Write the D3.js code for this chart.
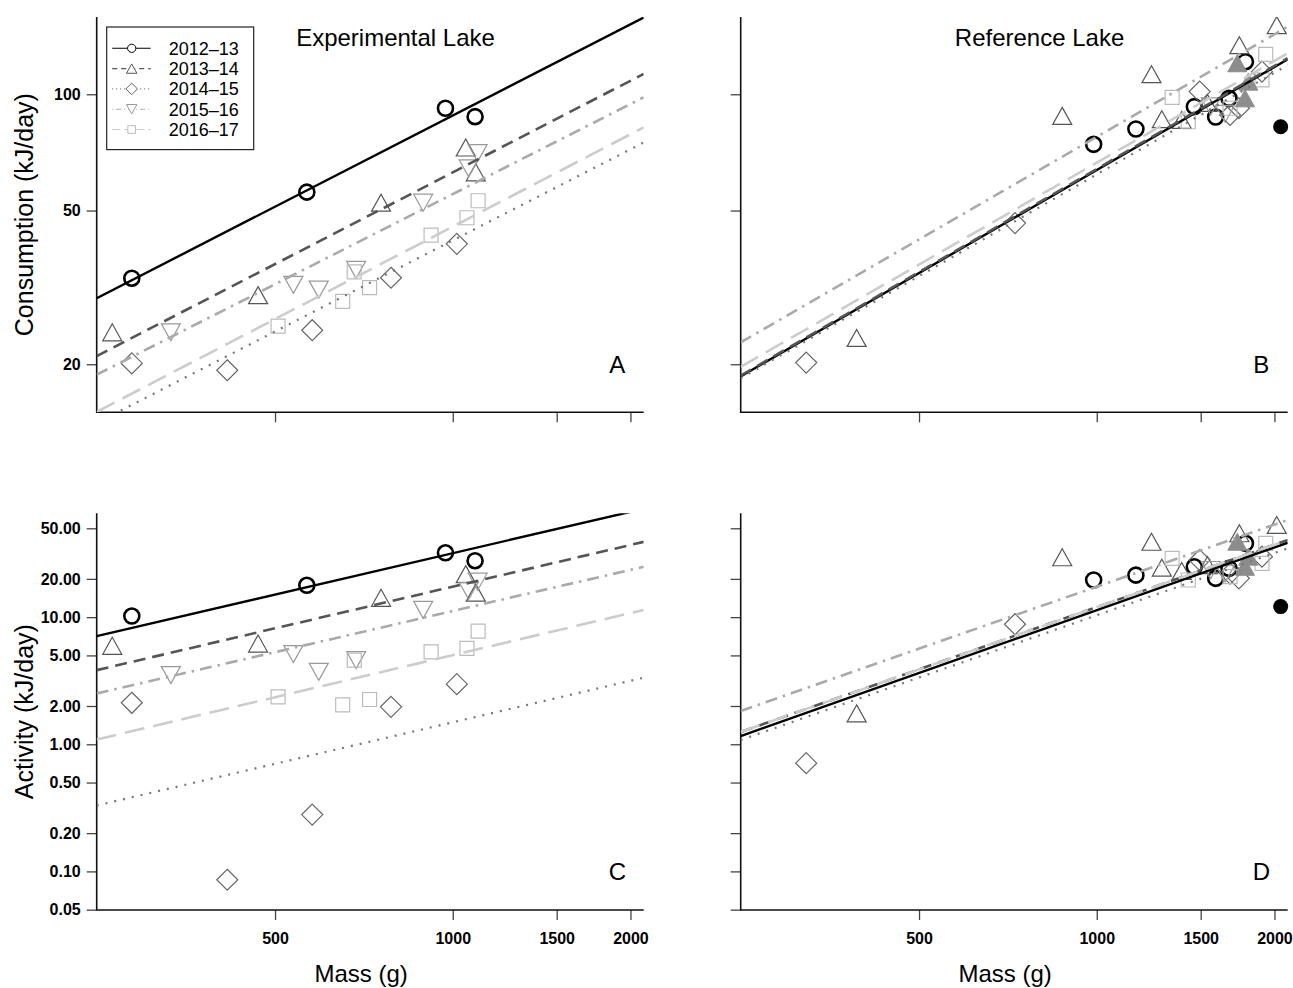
<!DOCTYPE html>
<html>
<head>
<meta charset="utf-8">
<script src="https://cdn.jsdelivr.net/npm/d3@7"></script>
<style>
  body { margin: 0; background: #fff; }
  text { font-family: "Liberation Sans", Arial, Helvetica, sans-serif; }
</style>
</head>
<body>
<script>
const W = 1293, H = 988;

// ---- data ----
const years = ["2012\u201313", "2013\u201314", "2014\u201315", "2015\u201316", "2016\u201317"];
const massTicks = [500, 1000, 1500, 2000];
const consTicks = [20, 50, 100];
const actTicks = [0.05, 0.1, 0.2, 0.5, 1, 2, 5, 10, 20, 50];
const massRange = [249.4, 2106];

// Experimental lake, one array per season
const expMass = [
  [286, 566, 972, 1091],
  [265, 468, 756, 1052, 1094],
  [286, 415, 578, 786, 1016],
  [333, 537, 593, 686, 891, 1102, 1064],
  [506, 651, 723, 681, 919, 1057, 1104]
];
const expCons = [
  [33.4, 55.8, 92.0, 87.5],
  [24.2, 30.2, 52.4, 72.8, 62.8],
  [20.1, 19.3, 24.5, 33.5, 41.0],
  [24.2, 32.1, 31.2, 35.1, 52.4, 70.4, 64.3],
  [25.1, 29.1, 31.6, 34.7, 43.2, 47.9, 53.0]
];
const expAct = [
  [10.2, 17.8, 32.1, 27.8],
  [5.95, 6.2, 14.2, 21.8, 15.6],
  [2.12, 0.086, 0.28, 1.97, 2.97],
  [3.5, 5.12, 3.71, 4.59, 11.4, 19.0, 16.1],
  [2.36, 2.04, 2.25, 4.59, 5.34, 5.67, 7.77]
];

// Reference lake
const refMass = [
  [988, 1165, 1463, 1590, 1675, 1786],
  [392, 874, 1238, 1289, 1393, 1540, 1744, 2018],
  [322, 727, 1494, 1682, 1741, 1905],
  [1560, 1650],
  [1342, 1429, 1933, 1905, 1682]
];
const refCons = [
  [74.2, 81.3, 92.9, 87.3, 97.6, 121.4],
  [23.4, 87.9, 112.7, 86.2, 85.8, 95.0, 134, 151],
  [20.2, 46.4, 101.6, 88.4, 92.0, 114.4],
  [93.0, 89.0],
  [98.2, 84.9, 126.9, 108.9, 92.0]
];
const refAct = [
  [19.6, 21.4, 24.9, 20.2, 24.2, 38.1],
  [1.75, 29.6, 39.2, 24.5, 23.1, 25.7, 45.7, 53.1],
  [0.71, 8.8, 28.1, 22.0, 20.2, 29.9],
  [23.5, 22.0],
  [29.0, 19.6, 38.1, 26.5, 20.8]
];
// filled markers in the reference lake
const refFilledTriMass = [1730, 1806, 1783];
const refFilledTriCons = [120.3, 107.8, 97.6];
const refFilledTriAct = [39.2, 29.9, 24.9];
const refFilledDotMass = [2049];
const refFilledDotCons = [82.4];
const refFilledDotAct = [12.1];

// fitted lines: value at the two ends of massRange
const expConsFit = [[29.65, 158], [21.0, 112.9], [14.1, 75.0], [18.8, 98.2], [15.06, 82.1]];
const expActFit = [[7.1, 71.2], [3.83, 39.1], [0.33, 3.34], [2.51, 24.9], [1.09, 11.4]];
const refConsFit = [[18.6, 123.2], [18.7, 124], [18.4, 119], [22.8, 149.6], [19.7, 127.7]];
const refActFit = [[1.16, 38.5], [1.25, 40.4], [1.08, 34.8], [1.83, 58.1], [1.25, 40.4]];

// ---- styles ----
const styles = [
  { shape: "circle", stroke: "#000", sw: 2.6, line: "#000", dash: null, lw: 2.4, legDash: null },
  { shape: "up", stroke: "#555", sw: 1.2, line: "#555", dash: "12,7", lw: 2.6, legDash: "5,4" },
  { shape: "diamond", stroke: "#666", sw: 1.2, line: "#777", dash: "2,7", lw: 2.2, legDash: "1,3" },
  { shape: "down", stroke: "#999", sw: 1.2, line: "#aaa", dash: "12,6,2.5,6", lw: 2.6, legDash: "1,3,5,3" },
  { shape: "square", stroke: "#bbb", sw: 1.2, line: "#ccc", dash: "20,9", lw: 2.6, legDash: "8,4" }
];

function markerPath(shape, k) {
  const p = d3.path();
  if (shape === "circle") {
    const r = 7.5 * k; p.moveTo(r, 0); p.arc(0, 0, r, 0, 2 * Math.PI);
  } else if (shape === "up") {
    const w = 9.5 * k, h = 8.5 * k;
    p.moveTo(0, -h); p.lineTo(w, h); p.lineTo(-w, h); p.closePath();
  } else if (shape === "down") {
    const w = 9.5 * k, h = 8.5 * k;
    p.moveTo(0, h); p.lineTo(w, -h); p.lineTo(-w, -h); p.closePath();
  } else if (shape === "diamond") {
    const r = 10.5 * k;
    p.moveTo(0, -r); p.lineTo(r, 0); p.lineTo(0, r); p.lineTo(-r, 0); p.closePath();
  } else if (shape === "square") {
    const r = 7 * k; p.rect(-r, -r, 2 * r, 2 * r);
  }
  return p.toString();
}

const svg = d3.select("body").append("svg").attr("width", W).attr("height", H)
  .style("background", "#fff");

const panels = [
  { id: "A", x0: 96.7, x1: 643.7, y0: 17, y1: 412.3, yDom: [15.02, 158.5], ticks: consTicks, fmt: d3.format("d"),
    yLabels: true, xLabels: false, mass: expMass, vals: expCons, fit: expConsFit, title: "Experimental Lake",
    ylab: "Consumption (kJ/day)", letterY: 20, legend: true },
  { id: "B", x0: 740.7, x1: 1287.7, y0: 17, y1: 412.3, yDom: [15.02, 158.5], ticks: consTicks, fmt: d3.format("d"),
    yLabels: false, xLabels: false, mass: refMass, vals: refCons, fit: refConsFit, title: "Reference Lake",
    filledTri: refFilledTriCons, filledDot: refFilledDotCons, letterY: 20 },
  { id: "C", x0: 96.7, x1: 643.7, y0: 513.3, y1: 910, yDom: [0.0497, 65.6], ticks: actTicks, fmt: d3.format(".2f"),
    yLabels: true, xLabels: true, mass: expMass, vals: expAct, fit: expActFit,
    ylab: "Activity (kJ/day)", letterY: 0.1 },
  { id: "D", x0: 740.7, x1: 1287.7, y0: 513.3, y1: 910, yDom: [0.0497, 65.6], ticks: actTicks, fmt: d3.format(".2f"),
    yLabels: false, xLabels: true, mass: refMass, vals: refAct, fit: refActFit,
    filledTri: refFilledTriAct, filledDot: refFilledDotAct, letterY: 0.1 }
];

panels.forEach(function (p) {
  const x = d3.scaleLog().domain(massRange).range([p.x0, p.x1]);
  const y = d3.scaleLog().domain(p.yDom).range([p.y1, p.y0]);
  const g = svg.append("g");

  g.append("clipPath").attr("id", "clip" + p.id)
    .append("rect").attr("x", p.x0).attr("y", p.y0)
    .attr("width", p.x1 - p.x0).attr("height", p.y1 - p.y0);

  // axes
  const yAxis = d3.axisLeft(y).tickValues(p.ticks).tickSize(10).tickPadding(6)
    .tickFormat(p.yLabels ? p.fmt : "");
  const ya = g.append("g").attr("transform", "translate(" + p.x0 + ",0)").call(yAxis);
  ya.select(".domain").remove();
  ya.selectAll(".tick line").attr("stroke", "#444").attr("stroke-width", 1.3);
  ya.selectAll(".tick text").attr("font-size", 16).attr("font-weight", "bold")
    .attr("font-family", "Liberation Sans, Arial, sans-serif").attr("fill", "#000");

  const xAxis = d3.axisBottom(x).tickValues(massTicks).tickSize(10).tickPadding(13)
    .tickFormat(p.xLabels ? d3.format("d") : "");
  const xa = g.append("g").attr("transform", "translate(0," + p.y1 + ")").call(xAxis);
  xa.select(".domain").remove();
  xa.selectAll(".tick line").attr("stroke", "#444").attr("stroke-width", 1.3);
  xa.selectAll(".tick text").attr("font-size", 16).attr("font-weight", "bold")
    .attr("font-family", "Liberation Sans, Arial, sans-serif").attr("fill", "#000");

  // L-shaped box
  g.append("path")
    .attr("d", "M" + p.x0 + "," + p.y0 + "V" + p.y1 + "H" + p.x1)
    .attr("fill", "none").attr("stroke", "#111").attr("stroke-width", 1.6);

  const plot = g.append("g").attr("clip-path", "url(#clip" + p.id + ")");

  // points
  p.mass.forEach(function (ms, i) {
    const st = styles[i];
    plot.selectAll(".pt" + i)
      .data(ms.map(function (m, j) { return [m, p.vals[i][j]]; }))
      .enter().append("path")
      .attr("d", markerPath(st.shape, 1))
      .attr("transform", function (d) { return "translate(" + x(d[0]) + "," + y(d[1]) + ")"; })
      .attr("fill", "none").attr("stroke", st.stroke).attr("stroke-width", st.sw);
  });

  if (p.filledTri) {
    plot.selectAll(".ftri")
      .data(refFilledTriMass.map(function (m, j) { return [m, p.filledTri[j]]; }))
      .enter().append("path")
      .attr("d", markerPath("up", 1))
      .attr("transform", function (d) { return "translate(" + x(d[0]) + "," + y(d[1]) + ")"; })
      .attr("fill", "#8c8c8c").attr("stroke", "#8c8c8c").attr("stroke-width", 1);
    g.selectAll(".fdot")
      .data(refFilledDotMass.map(function (m, j) { return [m, p.filledDot[j]]; }))
      .enter().append("circle")
      .attr("cx", function (d) { return x(d[0]); })
      .attr("cy", function (d) { return y(d[1]); })
      .attr("r", 7.5).attr("fill", "#000");
  }

  // fitted lines
  p.fit.forEach(function (f, i) {
    const st = styles[i];
    plot.append("line")
      .attr("x1", x(massRange[0])).attr("y1", y(f[0]))
      .attr("x2", x(massRange[1])).attr("y2", y(f[1]))
      .attr("stroke", st.line).attr("stroke-width", st.lw)
      .attr("stroke-dasharray", st.dash);
  });

  // panel letter
  g.append("text").attr("x", x(1900)).attr("y", y(p.letterY)).attr("dy", "0.36em")
    .attr("text-anchor", "middle").attr("font-size", 24).text(p.id);

  if (p.title) {
    g.append("text").attr("x", x(800)).attr("y", y(140)).attr("dy", "0.36em")
      .attr("text-anchor", "middle").attr("font-size", 24).text(p.title);
  }

  if (p.ylab) {
    g.append("text")
      .attr("transform", "translate(33," + ((p.y0 + p.y1) / 2) + ") rotate(-90)")
      .attr("text-anchor", "middle").attr("font-size", 25).text(p.ylab);
  }

  if (p.xLabels) {
    g.append("text").attr("x", (p.x0 + p.x1) / 2 - 9).attr("y", 982)
      .attr("text-anchor", "middle").attr("font-size", 24).text("Mass (g)");
  }

  if (p.legend) {
    const lg = g.append("g").attr("transform", "translate(" + (p.x0 + 10) + "," + (p.y0 + 10) + ")");
    lg.append("rect").attr("x", 0).attr("y", 0).attr("width", 147).attr("height", 122.6)
      .attr("fill", "#fff").attr("stroke", "#222").attr("stroke-width", 1.2);
    years.forEach(function (yr, i) {
      const st = styles[i];
      const cy = 21.3 + i * 20.3;
      lg.append("line").attr("x1", 5.5).attr("x2", 44).attr("y1", cy).attr("y2", cy)
        .attr("stroke", st.line).attr("stroke-width", 1.1).attr("stroke-dasharray", st.legDash);
      lg.append("path").attr("d", markerPath(st.shape, 0.55))
        .attr("transform", "translate(25," + cy + ")")
        .attr("fill", "#fff").attr("stroke", st.stroke).attr("stroke-width", 1);
      lg.append("text").attr("x", 62).attr("y", cy).attr("dy", "0.36em")
        .attr("font-size", 18).text(yr);
    });
  }
});
</script>
</body>
</html>
